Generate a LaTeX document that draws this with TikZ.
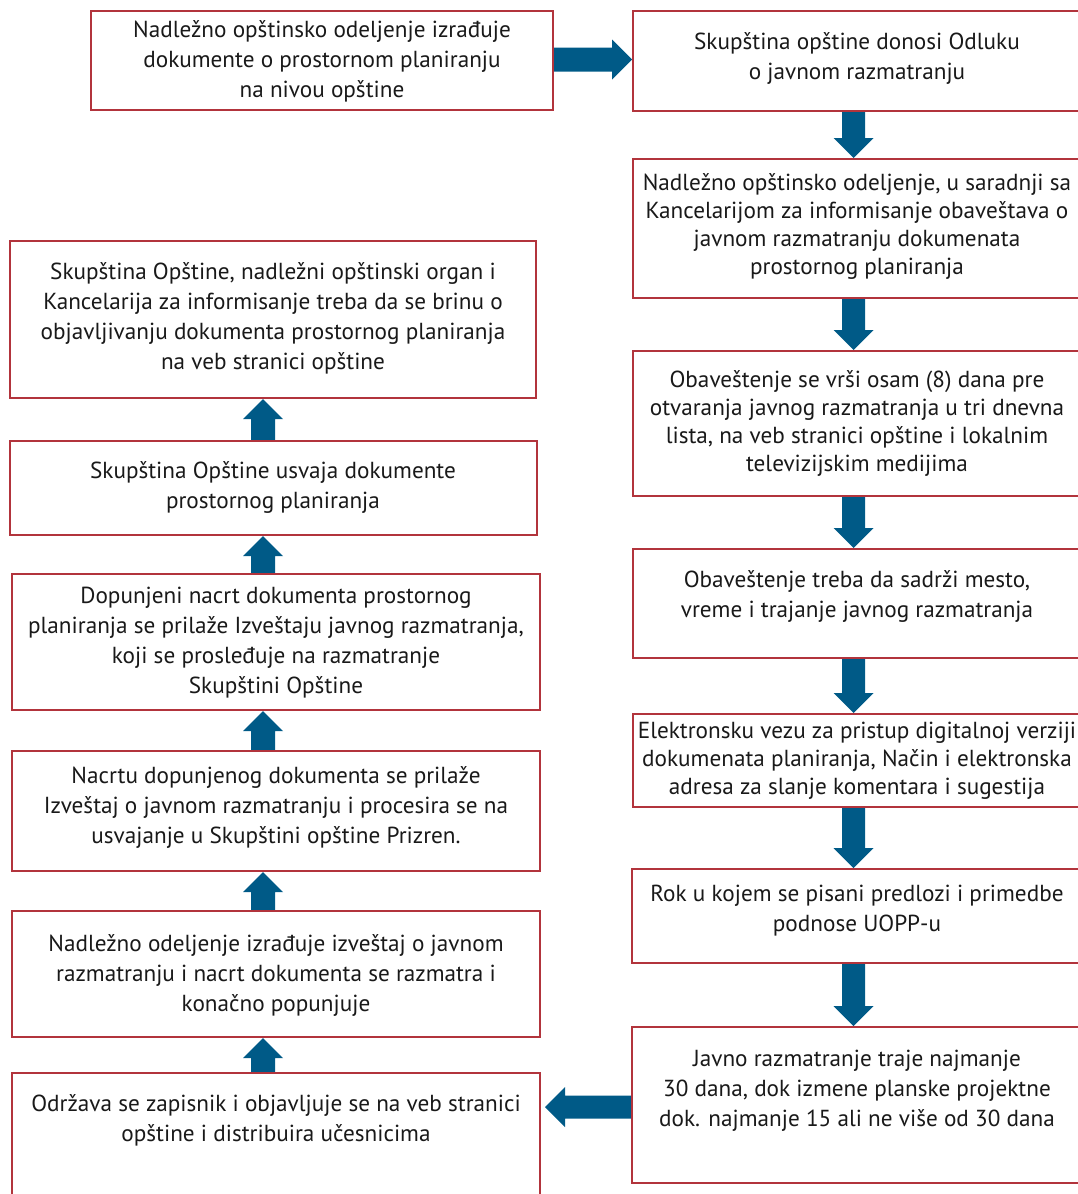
\documentclass[tikz,border=0pt]{standalone}
\usepackage{fontspec}
\setmainfont{PT Sans}
\usetikzlibrary{calc,backgrounds}
\definecolor{boxred}{RGB}{178,52,60}
\definecolor{arrblue}{RGB}{0,90,135}
\tikzset{
  box/.style={draw=boxred, line width=2pt, fill=white, inner sep=0pt, rectangle},
  txt/.style={align=center, inner sep=0pt, font=\fontsize{23.2}{30}\selectfont, text=black!90},
  txtn/.style={txt, font=\fontsize{23.2}{28}\selectfont},
  arrfill/.style={fill=arrblue}
}
% name, x1, y1, x2, y2
\newcommand{\boxat}[5]{%
  \node[box, minimum width={#4-#2}, minimum height={#5-#3}] (#1) at ({(#2+#4)/2},{(#3+#5)/2}) {};}
% from node #1 (above) down to node #2 along x of coordinate #3
\newcommand{\arrdown}[3]{%
  \fill[arrfill] ($(#1.south -| #3)+(-11.5,0)$) -- ($(#2.north -| #3)+(-11.5,-20)$)
    -- ($(#2.north -| #3)+(-20,-20)$) -- (#2.north -| #3) -- ($(#2.north -| #3)+(20,-20)$)
    -- ($(#2.north -| #3)+(11.5,-20)$) -- ($(#1.south -| #3)+(11.5,0)$) -- cycle;}
% from node #1 (below) up to node #2 along x of coordinate #3
\newcommand{\arrup}[3]{%
  \fill[arrfill] ($(#1.north -| #3)+(-12,0)$) -- ($(#2.south -| #3)+(-12,20)$)
    -- ($(#2.south -| #3)+(-20,20)$) -- (#2.south -| #3) -- ($(#2.south -| #3)+(20,20)$)
    -- ($(#2.south -| #3)+(12,20)$) -- ($(#1.north -| #3)+(12,0)$) -- cycle;}
\begin{document}
\begin{tikzpicture}[x=1pt,y=-1pt]
\clip (0,0) rectangle (1078,1194);
\useasboundingbox (0,0) rectangle (1078,1194);
\coordinate (rc) at (853.5,0);
\coordinate (lc) at (263,0);
\coordinate (ry) at (0,59.5);
\coordinate (ly) at (0,1107);

% right column
\boxat{R0}{633}{11}{1082}{111}
\boxat{R1}{633}{159}{1082}{298}
\boxat{R2}{633}{351}{1082}{496}
\boxat{R3}{633}{549}{1082}{658}
\boxat{R4}{633}{714}{1082}{807}
\boxat{R5}{632}{869}{1082}{963}
\boxat{R6}{632}{1027}{1082}{1183}
% left column
\boxat{L0}{91}{11}{553}{110}
\boxat{L1}{10}{241}{536}{398}
\boxat{L2}{10}{441}{537}{535}
\boxat{L3}{12}{574}{540}{710}
\boxat{L4}{12}{751}{540}{871}
\boxat{L5}{12}{911}{540}{1037}
\boxat{L6}{12}{1073}{540}{1215}

% texts
\node[txt] (L0t) at (322,61) {Nadležno opštinsko odeljenje izrađuje\\dokumente o prostornom planiranju\\na nivou opštine};
\node[txt] (R0t) at (857,58) {Skupština opštine donosi Odluku\\o javnom razmatranju};
\node[txtn] (R1t) at (857,226) {Nadležno opštinsko odeljenje, u saradnji sa\\Kancelarijom za informisanje obaveštava o\\javnom razmatranju dokumenata\\prostornog planiranja};
\node[txtn] (R2t) at (857,423) {Obaveštenje se vrši osam (8) dana pre\\otvaranja javnog razmatranja u tri dnevna\\lista, na veb stranici opštine i lokalnim\\televizijskim medijima};
\node[txt] (R3t) at (857,596) {Obaveštenje treba da sadrži mesto,\\vreme i trajanje javnog razmatranja};
\node[txtn] (R4t) at (857,761) {Elektronsku vezu za pristup digitalnoj verziji\\dokumenata planiranja, Način i elektronska\\adresa za slanje komentara i sugestija};
\node[txt] (R5t) at (857,911) {Rok u kojem se pisani predlozi i primedbe\\podnose UOPP-u};
\node[txt] (R6t) at (857,1091) {Javno razmatranje traje najmanje\\30 dana, dok izmene planske projektne\\dok. najmanje 15 ali ne više od 30 dana};
\node[txt] (L1t) at (273,318) {Skupština Opštine, nadležni opštinski organ i\\Kancelarija za informisanje treba da se brinu o\\objavljivanju dokumenta prostornog planiranja\\na veb stranici opštine};
\node[txt] (L2t) at (273,487) {Skupština Opštine usvaja dokumente\\prostornog planiranja};
\node[txt] (L3t) at (276,643) {Dopunjeni nacrt dokumenta prostornog\\planiranja se prilaže Izveštaju javnog razmatranja,\\koji se prosleđuje na razmatranje\\Skupštini Opštine};
\node[txt] (L4t) at (276,807) {Nacrtu dopunjenog dokumenta se prilaže\\Izveštaj o javnom razmatranju i procesira se na\\usvajanje u Skupštini opštine Prizren.};
\node[txt] (L5t) at (276,975) {Nadležno odeljenje izrađuje izveštaj o javnom\\razmatranju i nacrt dokumenta se razmatra i\\konačno popunjuje};
\node[txt] (L6t) at (276,1120) {Održava se zapisnik i objavljuje se na veb stranici\\opštine i distribuira učesnicima};

\begin{scope}[on background layer]
  \arrdown{R0}{R1}{rc}
  \arrdown{R1}{R2}{rc}
  \arrdown{R2}{R3}{rc}
  \arrdown{R3}{R4}{rc}
  \arrdown{R4}{R5}{rc}
  \arrdown{R5}{R6}{rc}
  \arrup{L6}{L5}{lc}
  \arrup{L5}{L4}{lc}
  \arrup{L4}{L3}{lc}
  \arrup{L3}{L2}{lc}
  \arrup{L2}{L1}{lc}
  % L0 -> R0
  \fill[arrfill] ($(L0.east |- ry)+(0,-12)$) -- ($(R0.west |- ry)+(-20,-12)$)
    -- ($(R0.west |- ry)+(-20,-20)$) -- (R0.west |- ry) -- ($(R0.west |- ry)+(-20,20)$)
    -- ($(R0.west |- ry)+(-20,12)$) -- ($(L0.east |- ry)+(0,12)$) -- cycle;
  % R6 -> L6
  \fill[arrfill] ($(R6.west |- ly)+(0,-11.5)$) -- ($(L6.east |- ly)+(24,-11.5)$)
    -- ($(L6.east |- ly)+(24,-20)$) -- ($(L6.east |- ly)+(4,0)$) -- ($(L6.east |- ly)+(24,20)$)
    -- ($(L6.east |- ly)+(24,11.5)$) -- ($(R6.west |- ly)+(0,11.5)$) -- cycle;
\end{scope}
\end{tikzpicture}
\end{document}
